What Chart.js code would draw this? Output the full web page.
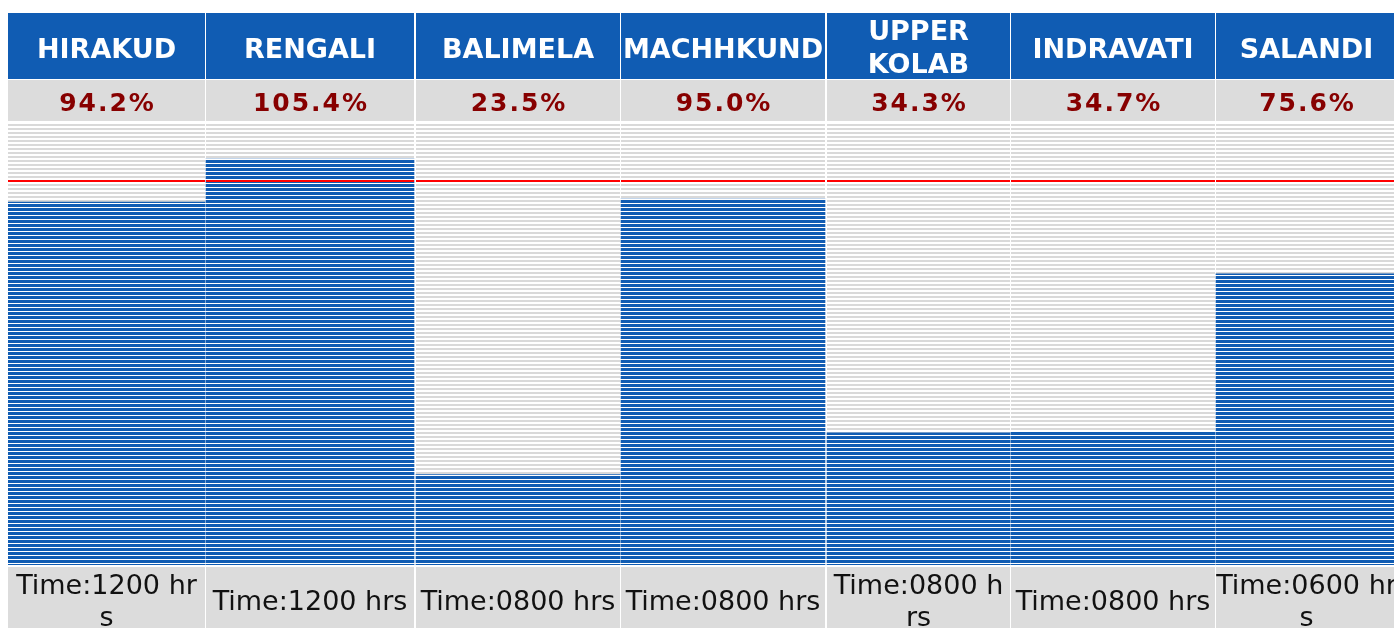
<!DOCTYPE html>
<html>
<head>
<meta charset="utf-8">
<script src="https://cdn.jsdelivr.net/npm/chart.js@4.4.1/dist/chart.umd.min.js"></script>
<style>
  html, body { margin: 0; padding: 0; background: #ffffff; overflow: hidden; width: 1394px; height: 628px; }
  #wrap { position: absolute; left: 0; top: 0; width: 1398px; height: 628px; }
  canvas { display: block; }
</style>
</head>
<body>
<div id="wrap"><canvas id="chart" width="1398" height="628" style="width:1398px;height:628px"></canvas></div>
<script>
// ---------------- DATA ----------------
const reservoirs   = ['HIRAKUD', 'RENGALI', 'BALIMELA', 'MACHHKUND', 'UPPER KOLAB', 'INDRAVATI', 'SALANDI'];
const headerLines  = [['HIRAKUD'], ['RENGALI'], ['BALIMELA'], ['MACHHKUND'], ['UPPER', 'KOLAB'], ['INDRAVATI'], ['SALANDI']];
const fillPercent  = [94.2, 105.4, 23.5, 95.0, 34.3, 34.7, 75.6];
const timeLabels   = [['Time:1200 hr', 's'], ['Time:1200 hrs'], ['Time:0800 hrs'], ['Time:0800 hrs'], ['Time:0800 h', 'rs'], ['Time:0800 hrs'], ['Time:0600 hr', 's']];
const fullLevel    = 100;   // full reservoir level (red line)
const axisMax      = 115;

// ---------------- LAYOUT / STYLE ----------------
const colWidths = [198, 210, 205, 206, 184, 205, 182];   // column pitch incl. separator
const sepWidths = [1, 2, 1, 2, 1, 1, 1];
const LEFT_PAD = 8;
const HEADER_TOP = 13, HEADER_H = 66;
const PCT_TOP = 80, PCT_H = 41;
const PLOT_TOP = 122, PLOT_BOTTOM = 565;
const TIME_TOP = 567;
const BLUE = '#105CB3';
const GREY = '#D9D9D9';
const PCT_RED = '#870000';

function makePattern(rows) {
  const c = document.createElement('canvas');
  c.width = 1; c.height = rows.length;
  const g = c.getContext('2d');
  rows.forEach((col, i) => { g.fillStyle = col; g.fillRect(0, i, 1, 1); });
  return g.createPattern(c, 'repeat');
}
const bluePattern = makePattern([BLUE, BLUE, BLUE, '#ffffff']);
const greyPattern = makePattern([GREY, GREY, '#ffffff', '#ffffff']);

const cellWidths = colWidths.map((w, i) => w - sepWidths[i]);
const colStarts = colWidths.map((w, i) => colWidths.slice(0, i).reduce((a, b) => a + b, 0));
const colCenters = colStarts.map((s, i) => s + cellWidths[i] / 2);
const totalWidth = colWidths.reduce((a, b) => a + b, 0);

const datasets = reservoirs.map((name, i) => ({
  label: name,
  data: [{ x: colCenters[i], y: fillPercent[i] }],
  barThickness: cellWidths[i],
  grouped: false,
  backgroundColor: bluePattern,
  borderWidth: 0
}));

const tablePlugin = {
  id: 'reservoirTable',
  beforeDatasetsDraw(chart) {
    const ctx = chart.ctx, area = chart.chartArea;
    ctx.save();
    chart.data.datasets.forEach((ds, i) => {
      const el = chart.getDatasetMeta(i).data[0];
      const left = el.x - el.width / 2, w = el.width, cx = el.x;
      // striped empty background
      ctx.fillStyle = greyPattern;
      ctx.fillRect(left, area.top, w, area.bottom - area.top);
      // header cell
      ctx.fillStyle = BLUE;
      ctx.fillRect(left, HEADER_TOP, w, HEADER_H);
      ctx.fillStyle = '#ffffff';
      ctx.font = 'bold 27px "DejaVu Sans"';
      ctx.textAlign = 'center';
      ctx.textBaseline = 'alphabetic';
      const hl = headerLines[i];
      if (hl.length === 1) {
        ctx.fillText(hl[0], cx, 57.5);
      } else {
        ctx.fillText(hl[0], cx, 39.5);
        ctx.fillText(hl[1], cx, 72.5);
      }
      // percentage cell
      ctx.fillStyle = '#DCDCDC';
      ctx.fillRect(left, PCT_TOP, w, PCT_H);
      ctx.fillStyle = PCT_RED;
      ctx.font = 'bold 25px "DejaVu Sans"';
      ctx.letterSpacing = '2px';
      ctx.fillText(fillPercent[i].toFixed(1) + '%', cx + 1, 111);
      ctx.letterSpacing = '0px';
      // time cell
      ctx.fillStyle = '#DCDCDC';
      ctx.fillRect(left, TIME_TOP, w, chart.height - TIME_TOP);
      ctx.fillStyle = '#111111';
      ctx.font = '27px "DejaVu Sans"';
      const tl = timeLabels[i];
      if (tl.length === 1) {
        ctx.fillText(tl[0], cx, 610);
      } else {
        ctx.fillText(tl[0], cx, 594);
        ctx.fillText(tl[1], cx, 626);
      }
    });
    ctx.restore();
  },
  afterDatasetsDraw(chart) {
    const ctx = chart.ctx;
    const y = Math.round(chart.scales.y.getPixelForValue(fullLevel));
    ctx.save();
    ctx.fillStyle = '#FF0000';
    chart.data.datasets.forEach((ds, i) => {
      const el = chart.getDatasetMeta(i).data[0];
      ctx.fillRect(el.x - el.width / 2, y, el.width, 2);
    });
    ctx.restore();
  }
};

new Chart(document.getElementById('chart'), {
  type: 'bar',
  data: { datasets },
  options: {
    responsive: false,
    maintainAspectRatio: false,
    animation: false,
    events: [],
    layout: { padding: { left: LEFT_PAD, right: 0, top: PLOT_TOP, bottom: 628 - PLOT_BOTTOM } },
    plugins: { legend: { display: false }, tooltip: { enabled: false } },
    scales: {
      x: { type: 'linear', min: 0, max: totalWidth, offset: false, display: false },
      y: { type: 'linear', min: 0, max: axisMax, display: false }
    }
  },
  plugins: [tablePlugin]
});
</script>
</body>
</html>
